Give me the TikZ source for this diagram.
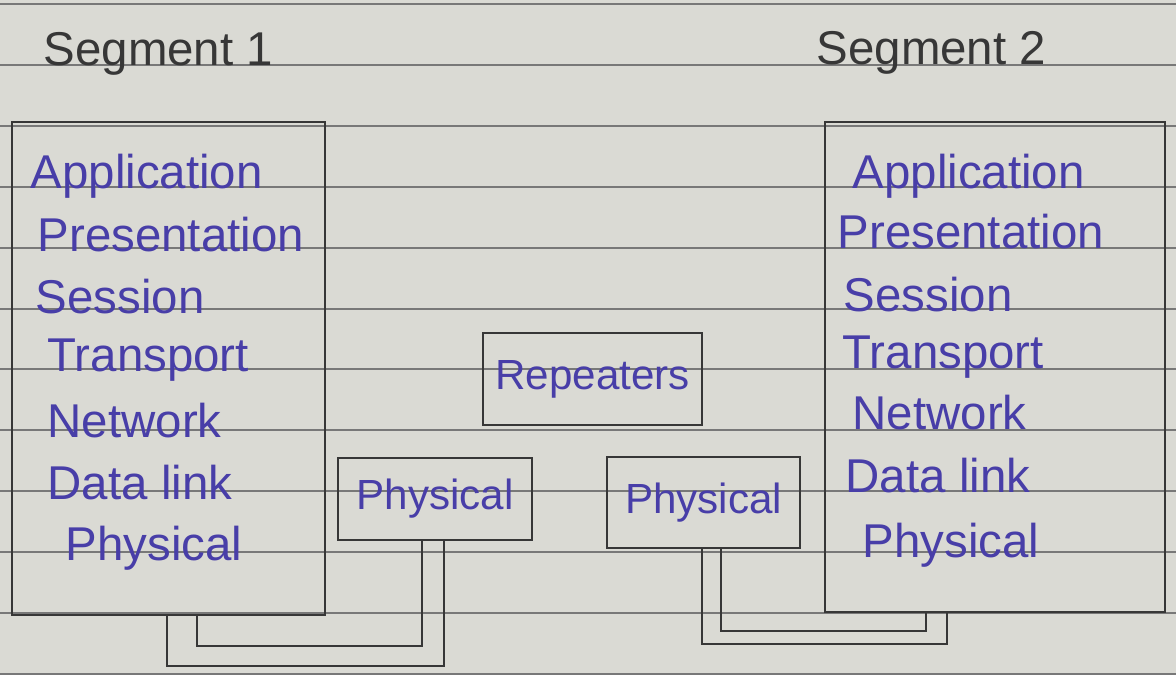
\documentclass[tikz,border=0pt]{standalone}
\usepackage{fontspec}
\setmainfont{Liberation Sans}
\usetikzlibrary{positioning,calc}
\definecolor{ink}{RGB}{72,62,168}
\definecolor{pencil}{RGB}{55,55,55}
\definecolor{paper}{RGB}{218,218,212}
\definecolor{ruled}{RGB}{120,120,120}

\begin{document}
\begin{tikzpicture}[x=0.02cm, y=-0.02cm, thick,
        layer/.style={anchor=base west, inner sep=0pt, text=ink, font=\fontsize{27}{32}\selectfont},
        title/.style={anchor=base west, inner sep=0pt, text=pencil, font=\fontsize{27}{32}\selectfont},
        stack/.style={rectangle, draw=pencil, line width=1.3pt},
        block/.style={rectangle, draw=pencil, line width=1.3pt, text=ink, font=\fontsize{24}{28}\selectfont},
        wire/.style={draw=pencil, line width=1.3pt}]

        % paper with its ruled lines
        \fill [paper] (0,0) rectangle (1176,675);
        \useasboundingbox (0,0) rectangle (1176,675);
        \foreach \y in {4,65,126,187,248,309,369,430,491,552,613,674}
            \draw [ruled, line width=0.6pt] (0,\y) -- (1176,\y);

        \node [title] (seg1) at (43,66) {Segment 1};
        \node [title] (seg2) at (816,65) {Segment 2};

        \node [stack, minimum width=6.26cm, minimum height=9.86cm] (osi1) at (168.5,368.5) {};
        \node [stack, minimum width=6.8cm, minimum height=9.8cm] (osi2) at (995,367) {};

        % left stack
        \node [layer] (app1) at (30,189) {Application};
        \node [layer] (pre1) at (37,252) {Presentation};
        \node [layer] (ses1) at (35,314) {Session};
        \node [layer] (tra1) at (47,372) {Transport};
        \node [layer] (net1) at (47,437) {Network};
        \node [layer] (dat1) at (47,499) {Data link};
        \node [layer] (phl1) at (65,560) {Physical};

        % right stack
        \node [layer] (app2) at (852,189) {Application};
        \node [layer] (pre2) at (837,249) {Presentation};
        \node [layer] (ses2) at (843,312) {Session};
        \node [layer] (tra2) at (842,369) {Transport};
        \node [layer] (net2) at (852,429) {Network};
        \node [layer] (dat2) at (845,492) {Data link};
        \node [layer] (phl2) at (862,557) {Physical};

        \node [block, minimum width=4.38cm, minimum height=1.84cm] (rep) at (592.5,379) {Repeaters};
        \node [block, minimum width=3.88cm, minimum height=1.64cm] (phy1) at (435,499) {Physical};
        \node [block, minimum width=3.86cm, minimum height=1.82cm] (phy2) at (703.5,502.5) {Physical};

        \path [wire] ($(phy1.south west)+(85,0)$) -- ++(0,105) -| ($(osi1.south west)+(186,0)$);
        \path [wire] ($(phy1.south west)+(107,0)$) -- ++(0,125) -| ($(osi1.south west)+(156,0)$);
        \path [wire] ($(phy2.south west)+(115,0)$) -- ++(0,82) -| ($(osi2.south west)+(102,0)$);
        \path [wire] ($(phy2.south west)+(96,0)$) -- ++(0,95) -| ($(osi2.south west)+(123,0)$);
    \end{tikzpicture}
\end{document}
